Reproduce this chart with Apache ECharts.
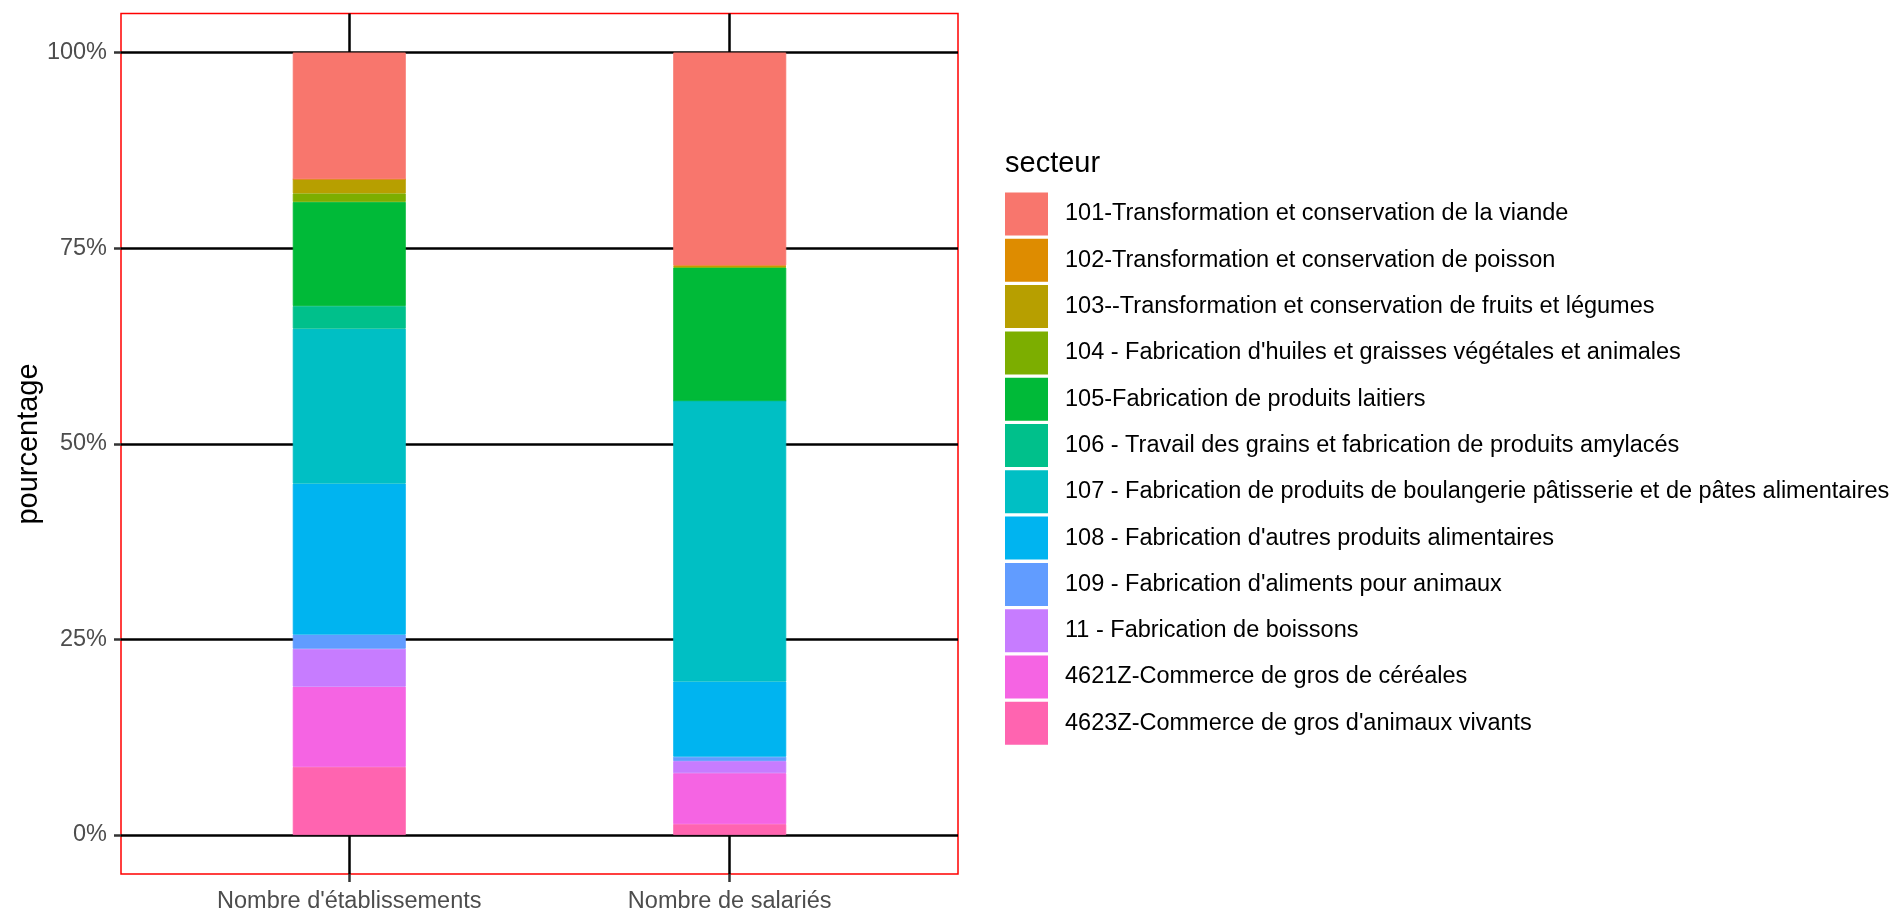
<!DOCTYPE html>
<html>
<head>
<meta charset="utf-8">
<script src="https://cdn.jsdelivr.net/npm/echarts@6/dist/echarts.min.js"></script>
<style>html,body{margin:0;padding:0;background:#fff;}#c{width:1894px;height:909px;}</style>
</head>
<body>
<div id="c"></div>
<script>
// Categories on the x axis
const categories = ["Nombre d'établissements", "Nombre de salariés"];
// Sectors (legend order, top of stack first)
const secteurs = [
  "101-Transformation et conservation de la viande",
  "102-Transformation et conservation de poisson",
  "103--Transformation et conservation de fruits et légumes",
  "104 - Fabrication d'huiles et graisses végétales et animales",
  "105-Fabrication de produits laitiers",
  "106 - Travail des grains et fabrication de produits amylacés",
  "107 - Fabrication de produits de boulangerie pâtisserie et de pâtes alimentaires",
  "108 - Fabrication d'autres produits alimentaires",
  "109 - Fabrication d'aliments pour animaux",
  "11 - Fabrication de boissons",
  "4621Z-Commerce de gros de céréales",
  "4623Z-Commerce de gros d'animaux vivants"
];
// Percentages per sector, for établissements
const pctEtablissements = [16.2, 0.0, 1.8, 1.1, 13.3, 2.9, 19.8, 19.3, 1.8, 4.85, 10.25, 8.7];
// Percentages per sector, for salariés
const pctSalaries = [27.2, 0.1, 0.1, 0.1, 17.0, 0.0, 35.9, 9.6, 0.55, 1.55, 6.5, 1.4];
// Tick labels
const yTicks = [0, 25, 50, 75, 100];

const colors = ['#F8766D','#DE8C00','#B79F00','#7CAE00','#00BA38','#00C08B','#00BFC4','#00B4F0','#619CFF','#C77CFF','#F564E3','#FF64B0'];

// fine slots along x from 0.4 to 2.6 (ggplot discrete expansion); categories at 1.0 and 2.0
const slots = [];
for (let i = 0; i <= 22; i++) slots.push((0.4 + 0.1 * i).toFixed(1));
const catSlot = ['1.0', '2.0'];
const catIdx = [6, 16];
const showAt = (i) => catIdx.indexOf(i) >= 0;

const FONT = 'Liberation Sans, Arial, sans-serif';

const series = [];
for (let k = secteurs.length - 1; k >= 0; k--) {
  series.push({
    name: secteurs[k],
    type: 'bar',
    stack: 'total',
    xAxisIndex: 0,
    yAxisIndex: 0,
    barWidth: 113,
    itemStyle: {color: colors[k], borderColor: colors[k], borderWidth: 0.8},
    data: [[catSlot[0], pctEtablissements[k]], [catSlot[1], pctSalaries[k]]],
    animation: false
  });
}

const gridLineStyle = {color: '#000', width: 2.5};

const chart = echarts.init(document.getElementById('c'));
chart.setOption({
  backgroundColor: '#fff',
  animation: false,
  textStyle: {fontFamily: FONT},
  grid: [
    {left: 121, width: 837, top: 52.5, height: 782.5, show: false, containLabel: false, outerBoundsMode: 'none'},
    {left: 121, width: 837, top: 13.4, height: 860.7, show: true, borderColor: '#FF0000', borderWidth: 1.5, backgroundColor: 'transparent', containLabel: false, outerBoundsMode: 'none'}
  ],
  xAxis: [
    // data axis of the bars; its ticks draw the vertical grid line segment below the bars
    {gridIndex: 0, type: 'category', data: slots, boundaryGap: false, position: 'bottom',
      axisLine: {show: false}, axisLabel: {show: false}, splitLine: {show: false},
      axisTick: {show: true, interval: (i) => showAt(i), length: 39.1, lineStyle: gridLineStyle}
    },
    // panel bottom axis: outer ticks + labels
    {gridIndex: 1, type: 'category', data: slots, boundaryGap: false, position: 'bottom',
      axisLine: {show: false}, splitLine: {show: false},
      axisTick: {show: true, interval: (i) => showAt(i), length: 8, lineStyle: {color: '#333', width: 2.5}},
      axisLabel: {interval: (i) => showAt(i), margin: 15, color: '#4d4d4d', fontSize: 23.5, fontFamily: FONT,
        formatter: (v) => v === catSlot[0] ? categories[0] : (v === catSlot[1] ? categories[1] : '')}
    },
    // panel top axis: inner ticks draw the vertical grid line segment above the bars
    {gridIndex: 1, type: 'category', data: slots, boundaryGap: false, position: 'top',
      axisLine: {show: false}, splitLine: {show: false}, axisLabel: {show: false},
      axisTick: {show: true, inside: true, interval: (i) => showAt(i), length: 39.1, lineStyle: gridLineStyle}
    }
  ],
  yAxis: [
    {gridIndex: 0, type: 'value', min: yTicks[0], max: yTicks[yTicks.length - 1], interval: 25,
      axisLine: {show: false},
      axisTick: {show: true, length: 7, lineStyle: {color: '#333', width: 2.5}},
      axisLabel: {margin: 14, color: '#4d4d4d', fontSize: 23.5, fontFamily: FONT, formatter: '{value}%'},
      splitLine: {show: true, lineStyle: gridLineStyle}
    },
    {gridIndex: 1, type: 'value', min: 0, max: 1, show: false}
  ],
  legend: {
    orient: 'vertical', left: 1005, top: 192.5, padding: 0,
    itemWidth: 41, itemHeight: 41, itemGap: 3.3, icon: 'rect',
    data: secteurs,
    selectedMode: false,
    textStyle: {fontSize: 23.5, color: '#000', fontFamily: FONT, padding: [0, 0, 0, 13]}
  },
  graphic: [
    {type: 'text', left: 1005, top: 149, style: {text: 'secteur', font: '29px ' + FONT, fill: '#000'}},
    {type: 'text', x: 29, y: 444, rotation: Math.PI / 2,
      style: {text: 'pourcentage', font: '29px ' + FONT, fill: '#000', textAlign: 'center', textVerticalAlign: 'middle'}}
  ],
  series: series
});
</script>
</body>
</html>
